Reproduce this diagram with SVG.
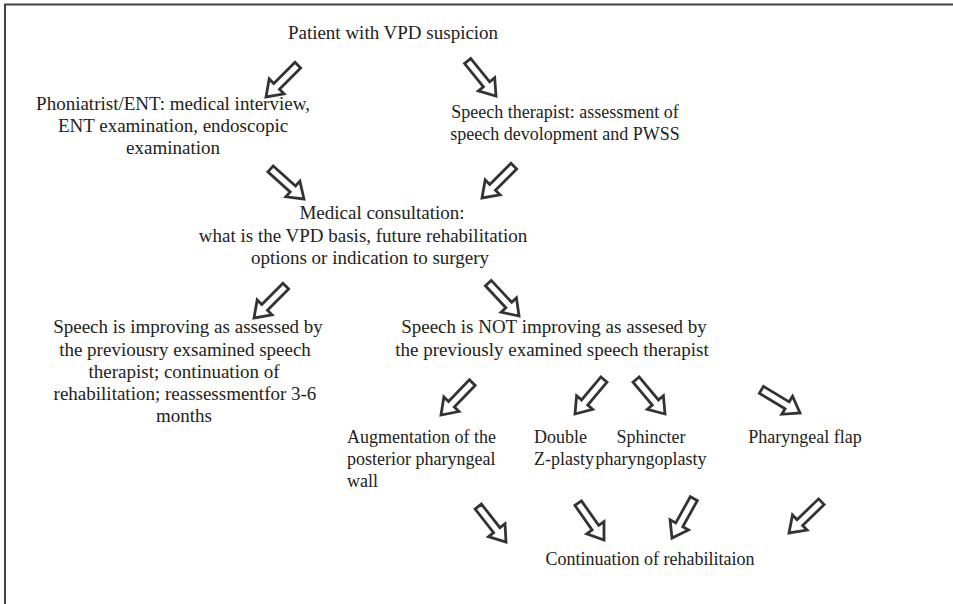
<svg xmlns="http://www.w3.org/2000/svg" width="953" height="604" viewBox="0 0 953 604">
<style>
.c{text-anchor:middle}
.arr{fill:#fff;stroke:#333;stroke-width:2.8;stroke-linejoin:miter}
.frame{fill:none;stroke:#444;stroke-width:2}
</style>
<defs>
<path id="arrow" class="arr" d="M-45,-4 H-15 V-10.5 L0,0 L-15,10.5 V4 H-45 Z"/>
</defs>
<rect width="953" height="604" fill="#fff"/>
<path class="frame" d="M5,604 V4.5 H953"/>
<g id="connectors">
<use href="#arrow" transform="translate(266,97) rotate(135)"/>
<use href="#arrow" transform="translate(496,96) rotate(51)"/>
<use href="#arrow" transform="translate(304,199) rotate(42)"/>
<use href="#arrow" transform="translate(482,198) rotate(135)"/>
<use href="#arrow" transform="translate(254,318) rotate(135)"/>
<use href="#arrow" transform="translate(519,316) rotate(47)"/>
<use href="#arrow" transform="translate(441,415) rotate(134)"/>
<use href="#arrow" transform="translate(575,414) rotate(130)"/>
<use href="#arrow" transform="translate(665,414) rotate(50)"/>
<use href="#arrow" transform="translate(800,413) rotate(31)"/>
<use href="#arrow" transform="translate(506,542) rotate(52)"/>
<use href="#arrow" transform="translate(604,540) rotate(55)"/>
<use href="#arrow" transform="translate(672,538) rotate(119)"/>
<use href="#arrow" transform="translate(789,533) rotate(136)"/>
</g>
<g id="patient"><text class="c" font-family="Liberation Serif" font-size="19" fill="#222" x="393" y="39">Patient with VPD suspicion</text></g>
<g id="phoniatrist">
<text class="c" font-family="Liberation Serif" font-size="19" fill="#222" x="173" y="110">Phoniatrist/ENT: medical interview,</text>
<text class="c" font-family="Liberation Serif" font-size="19" fill="#222" x="173" y="132">ENT examination, endoscopic</text>
<text class="c" font-family="Liberation Serif" font-size="19" fill="#222" x="173" y="154">examination</text>
</g>
<g id="speech-therapist">
<text class="c" font-family="Liberation Serif" font-size="18" fill="#222" x="565" y="118">Speech therapist: assessment of</text>
<text class="c" font-family="Liberation Serif" font-size="18" fill="#222" x="565" y="140">speech devolopment and PWSS</text>
</g>
<g id="consultation">
<text class="c" font-family="Liberation Serif" font-size="19" fill="#222" x="382" y="219">Medical consultation:</text>
<text class="c" font-family="Liberation Serif" font-size="19" fill="#222" x="363" y="242">what is the VPD basis, future rehabilitation</text>
<text class="c" font-family="Liberation Serif" font-size="19" fill="#222" x="370" y="264">options or indication to surgery</text>
</g>
<g id="improving">
<text class="c" font-family="Liberation Serif" font-size="19" fill="#222" x="188" y="333">Speech is improving as assessed by</text>
<text class="c" font-family="Liberation Serif" font-size="19" fill="#222" x="185" y="356">the previousry exsamined speech</text>
<text class="c" font-family="Liberation Serif" font-size="19" fill="#222" x="184" y="378">therapist; continuation of</text>
<text class="c" font-family="Liberation Serif" font-size="19" fill="#222" x="185" y="400">rehabilitation; reassessmentfor 3-6</text>
<text class="c" font-family="Liberation Serif" font-size="19" fill="#222" x="184" y="422">months</text>
</g>
<g id="not-improving">
<text class="c" font-family="Liberation Serif" font-size="19" fill="#222" x="554" y="333">Speech is NOT improving as assesed by</text>
<text class="c" font-family="Liberation Serif" font-size="19" fill="#222" x="552" y="356">the previously examined speech therapist</text>
</g>
<g id="augmentation">
<text font-family="Liberation Serif" font-size="18" fill="#222" x="347" y="443">Augmentation of the</text>
<text font-family="Liberation Serif" font-size="18" fill="#222" x="347" y="465">posterior pharyngeal</text>
<text font-family="Liberation Serif" font-size="18" fill="#222" x="347" y="487">wall</text>
</g>
<g id="double-z">
<text font-family="Liberation Serif" font-size="18" fill="#222" x="534" y="443">Double</text>
<text font-family="Liberation Serif" font-size="18" fill="#222" x="534" y="465">Z-plasty</text>
</g>
<g id="sphincter">
<text class="c" font-family="Liberation Serif" font-size="18" fill="#222" x="651" y="443">Sphincter</text>
<text class="c" font-family="Liberation Serif" font-size="18" fill="#222" x="651" y="465">pharyngoplasty</text>
</g>
<g id="flap"><text class="c" font-family="Liberation Serif" font-size="18" fill="#222" x="805" y="443">Pharyngeal flap</text></g>
<g id="continuation"><text class="c" font-family="Liberation Serif" font-size="18" fill="#222" x="650" y="565">Continuation of rehabilitaion</text></g>
</svg>
